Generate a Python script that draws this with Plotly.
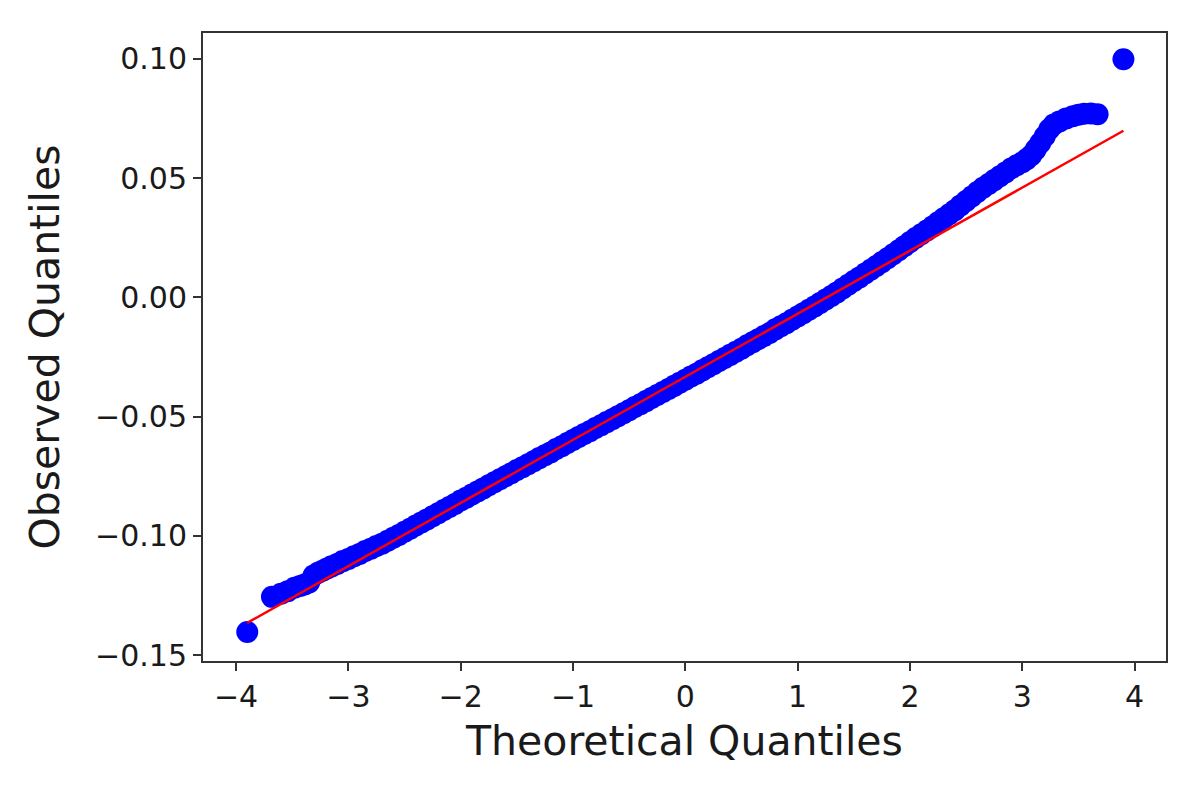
import plotly.graph_objects as go

theoretical = [
    -3.90, -3.68, -3.60, -3.54, -3.48, -3.43, -3.39, -3.35, -3.31, -3.27,
    -3.23, -3.19, -3.15, -3.10, -3.05, -3.00, -2.95, -2.90, -2.85, -2.80,
    -2.75, -2.70, -2.65, -2.60, -2.55, -2.50, -2.45, -2.40, -2.35, -2.30,
    -2.25, -2.20, -2.15, -2.10, -2.05, -2.00, -1.95, -1.90, -1.85, -1.80,
    -1.75, -1.70, -1.65, -1.60, -1.55, -1.50, -1.45, -1.40, -1.35, -1.30,
    -1.25, -1.20, -1.15, -1.10, -1.05, -1.00, -0.95, -0.90, -0.85, -0.80,
    -0.75, -0.70, -0.65, -0.60, -0.55, -0.50, -0.45, -0.40, -0.35, -0.30,
    -0.25, -0.20, -0.15, -0.10, -0.05, 0.00, 0.05, 0.10, 0.15, 0.20,
    0.25, 0.30, 0.35, 0.40, 0.45, 0.50, 0.55, 0.60, 0.65, 0.70,
    0.75, 0.80, 0.85, 0.90, 0.95, 1.00, 1.05, 1.10, 1.15, 1.20,
    1.25, 1.30, 1.35, 1.40, 1.45, 1.50, 1.55, 1.60, 1.65, 1.70,
    1.75, 1.80, 1.85, 1.90, 1.95, 2.00, 2.05, 2.10, 2.15, 2.20,
    2.25, 2.30, 2.35, 2.40, 2.45, 2.50, 2.55, 2.60, 2.65, 2.70,
    2.75, 2.80, 2.85, 2.90, 2.95, 3.00, 3.04, 3.08, 3.12, 3.16,
    3.20, 3.24, 3.28, 3.33, 3.39, 3.45, 3.50, 3.55, 3.61, 3.67,
    3.90,
]
observed = [
    -0.1403, -0.1256, -0.1243, -0.1232, -0.1218, -0.1210, -0.1204, -0.1196, -0.1166, -0.1155,
    -0.1146, -0.1137, -0.1128, -0.1118, -0.1106, -0.1097, -0.1086, -0.1076, -0.1064, -0.1054,
    -0.1043, -0.1033, -0.1021, -0.1008, -0.0996, -0.0983, -0.0970, -0.0957, -0.0944, -0.0931,
    -0.0918, -0.0905, -0.0892, -0.0879, -0.0866, -0.0852, -0.0840, -0.0827, -0.0814, -0.0801,
    -0.0788, -0.0775, -0.0763, -0.0750, -0.0737, -0.0724, -0.0712, -0.0700, -0.0687, -0.0674,
    -0.0662, -0.0650, -0.0636, -0.0624, -0.0611, -0.0598, -0.0585, -0.0573, -0.0561, -0.0548,
    -0.0536, -0.0523, -0.0511, -0.0498, -0.0486, -0.0473, -0.0460, -0.0448, -0.0435, -0.0422,
    -0.0409, -0.0397, -0.0384, -0.0371, -0.0358, -0.0345, -0.0332, -0.0320, -0.0306, -0.0293,
    -0.0280, -0.0267, -0.0254, -0.0241, -0.0228, -0.0215, -0.0201, -0.0188, -0.0175, -0.0162,
    -0.0149, -0.0134, -0.0121, -0.0108, -0.0094, -0.0080, -0.0066, -0.0052, -0.0038, -0.0023,
    -0.0009, 0.0006, 0.0021, 0.0037, 0.0053, 0.0069, 0.0084, 0.0100, 0.0116, 0.0132,
    0.0148, 0.0164, 0.0181, 0.0198, 0.0215, 0.0232, 0.0249, 0.0265, 0.0281, 0.0297,
    0.0315, 0.0332, 0.0349, 0.0366, 0.0386, 0.0404, 0.0423, 0.0442, 0.0460, 0.0476,
    0.0492, 0.0508, 0.0524, 0.0541, 0.0554, 0.0567, 0.0580, 0.0596, 0.0621, 0.0648,
    0.0676, 0.0705, 0.0725, 0.0738, 0.0750, 0.0760, 0.0766, 0.0770, 0.0771, 0.0768,
    0.0999,
]

# reference line endpoints
line_x = [-3.90, 3.90]
line_y = [-0.1365, 0.0699]

x_ticks = [-4, -3, -2, -1, 0, 1, 2, 3, 4]
y_ticks = [-0.15, -0.10, -0.05, 0.00, 0.05, 0.10]

fig = go.Figure()

fig.add_trace(
    go.Scatter(
        x=theoretical,
        y=observed,
        mode='markers',
        marker=dict(size=22, color='#0000ff', line=dict(width=0)),
        showlegend=False,
    )
)

fig.add_trace(
    go.Scatter(
        x=line_x,
        y=line_y,
        mode='lines',
        line=dict(color='#ff0000', width=2.5),
        showlegend=False,
    )
)

axis_common = dict(
    showgrid=False,
    zeroline=False,
    showline=True,
    linecolor='#333333',
    linewidth=2,
    mirror=True,
    ticks='outside',
    ticklen=8,
    tickwidth=2,
    tickcolor='#333333',
    tickfont=dict(family='DejaVu Sans', size=30, color='#1a1a1a'),
)

fig.update_xaxes(
    range=[-4.294, 4.279],
    tickvals=x_ticks,
    ticktext=[('\u2212' if v < 0 else '') + str(abs(v)) for v in x_ticks],
    title=dict(text='Theoretical Quantiles', standoff=13,
               font=dict(family='DejaVu Sans', size=41, color='#1a1a1a')),
    **axis_common
)
fig.update_yaxes(
    range=[-0.1525, 0.1109],
    tickvals=y_ticks,
    ticktext=[('\u2212' if v < 0 else '') + '%.2f' % abs(v) for v in y_ticks],
    title=dict(text='Observed Quantiles', standoff=23,
               font=dict(family='DejaVu Sans', size=41, color='#1a1a1a')),
    **axis_common
)

fig.update_layout(
    width=1180,
    height=782,
    margin=dict(l=195, r=22, t=25, b=129),
    plot_bgcolor='white',
    paper_bgcolor='white',
)

fig.write_html("out.html")
